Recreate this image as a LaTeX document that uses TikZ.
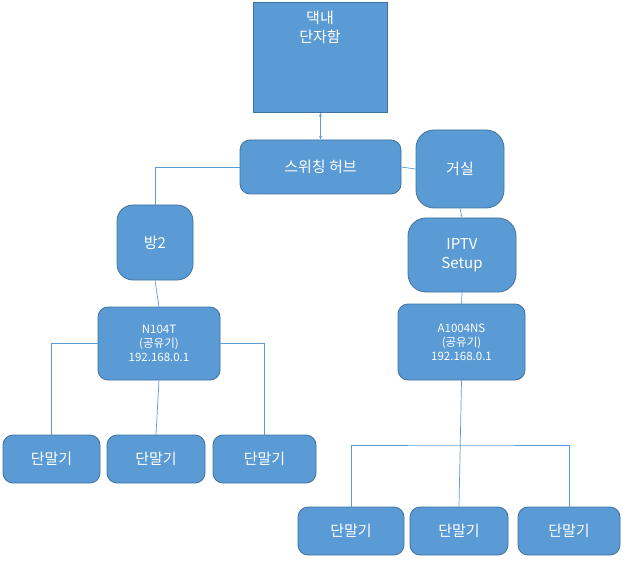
\documentclass[tikz,border=0pt]{standalone}
\usepackage{fontspec}
\setmainfont{Noto Sans CJK KR}
\usetikzlibrary{arrows.meta}
\definecolor{bfill}{HTML}{5B9BD5}
\definecolor{bdraw}{HTML}{41719C}
\tikzset{
 box/.style={draw=bdraw,fill=bfill,text=white,line width=0.8pt,inner sep=0pt,align=center},
 rbox/.style={box,rounded corners=10pt},
 big/.style={font=\fontsize{15}{19}\selectfont},
 small/.style={font=\fontsize{11.5}{14}\selectfont},
 ln/.style={draw=bfill,line width=0.7pt}
}
\begin{document}
\begin{tikzpicture}[x=1pt,y=-1pt]
\useasboundingbox (0,0) rectangle (623,561);
\node[box,big,minimum width=134pt,minimum height=110pt,anchor=north west] (top) at (253,2) {};
\node[text=white,big,align=center,anchor=north] (toptxt) at (320,8) {댁내\\단자함};
\node[rbox,big,minimum width=161pt,minimum height=54pt] (hub) at (320.5,167) {스위칭 허브};
\node[rbox,big,rounded corners=18pt,minimum width=88pt,minimum height=78pt] (liv) at (460,169) {거실};
\node[rbox,big,rounded corners=16pt,minimum width=76pt,minimum height=75pt] (room) at (155,242.5) {방2};
\node[rbox,big,rounded corners=18pt,minimum width=108pt,minimum height=74pt] (iptv) at (462,255) {IPTV\\Setup};
\node[rbox,small,minimum width=122pt,minimum height=73pt] (n104) at (159,343.5) {N104T\\(공유기)\\192.168.0.1};
\node[rbox,small,minimum width=127pt,minimum height=76pt] (a1004) at (461.5,342) {A1004NS\\(공유기)\\192.168.0.1};
\foreach \n/\x/\w in {t1/51.5/97,t2/156/98,t3/264.5/103}
  \node[rbox,big,minimum width=\w pt,minimum height=48pt] (\n) at (\x,459) {단말기};
\foreach \n/\x/\w in {t4/351/106,t5/459/98,t6/569/102}
  \node[rbox,big,minimum width=\w pt,minimum height=48pt] (\n) at (\x,531) {단말기};
\draw[ln,{Stealth[length=4pt]}-{Stealth[length=4pt]}] (top.south) -- (hub.north);
\draw[ln] (hub.west) -| (room.north);
\draw[ln] (hub.east) -- (liv.west);
\draw[ln] (liv.south) -- (iptv.north);
\draw[ln] (iptv.south) -- (a1004.north);
\draw[ln] (room.south) -- (n104.north);
\draw[ln] (n104.west) -| (t1.north);
\draw[ln] (n104.south) -- (t2.north);
\draw[ln] (n104.east) -| (t3.north);
\coordinate (br) at (461.5,445);
\draw[ln] (a1004.south) -- (t5.north);
\draw[ln] (t4.north) |- (br) -| (t6.north);
\end{tikzpicture}
\end{document}
